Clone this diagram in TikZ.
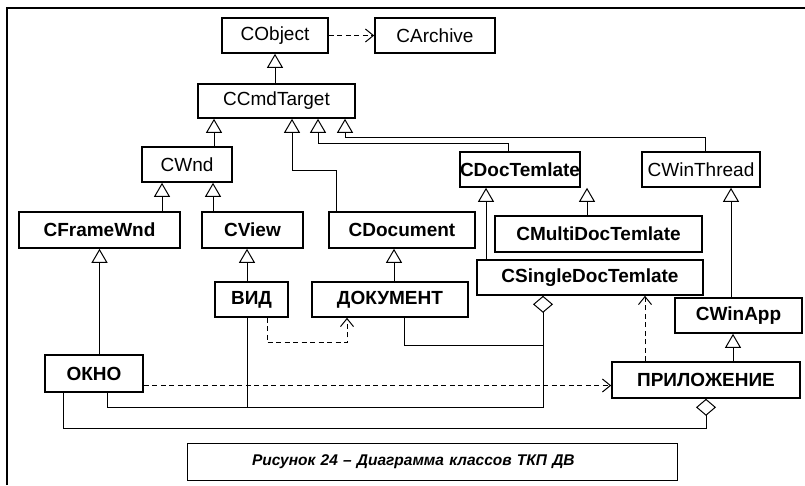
\documentclass[tikz,border=0pt]{standalone}
\usepackage{fontspec}
\setmainfont{Liberation Sans}
\usetikzlibrary{arrows.meta}

\begin{document}
\begin{tikzpicture}[x=1pt,y=-1pt,
  b/.style={draw,line width=1.6pt,inner sep=0pt,minimum height=35pt,font=\fontsize{19}{22}\selectfont},
  bb/.style={b,font=\fontsize{19}{22}\selectfont\bfseries},
  con/.style={line width=1pt},
  inh/.style={con,-{Triangle[open,length=14pt,width=16pt]}},
  agg/.style={con,-{Diamond[open,length=17pt,width=20pt]}},
  dep/.style={con,dash pattern=on 5pt off 3.5pt,-{Straight Barb[length=8pt,width=13pt]}}]
\useasboundingbox (0,0) rectangle (805,485);
\draw[line width=1.2pt] (7,485) -- (7,8) -- (805,8);

\node[b,minimum width=106pt] (obj) at (275,35.5) {CObject};
\node[b,minimum width=120pt] (arc) at (435,35.5) {CArchive};
\node[b,minimum width=157pt,minimum height=34pt] (cct) at (276.5,101) {CCmdTarget};
\node[b,minimum width=90pt] (wnd) at (187,164.5) {CWnd};
\node[bb,minimum width=120pt] (dt) at (520,169.5) {CDocTemlate};
\node[b,minimum width=118pt] (wt) at (701,169.5) {CWinThread};
\node[bb,minimum width=161pt,minimum height=36pt] (fw) at (99.5,230) {CFrameWnd};
\node[bb,minimum width=101pt,minimum height=36pt] (vw) at (252.5,230) {CView};
\node[bb,minimum width=146pt,minimum height=36pt] (doc) at (402,230) {CDocument};
\node[bb,minimum width=207pt,minimum height=36pt] (mdt) at (598.5,234) {CMultiDocTemlate};
\node[bb,minimum width=226pt] (sdt) at (590,277.5) {CSingleDocTemlate};
\node[bb,minimum width=73pt] (vid) at (251.5,299.5) {ВИД};
\node[bb,minimum width=156pt] (dok) at (390,299.5) {ДОКУМЕНТ};
\node[bb,minimum width=127pt] (wapp) at (738.5,315.5) {CWinApp};
\node[bb,minimum width=98pt,minimum height=37pt] (okno) at (94,373.5) {ОКНО};
\node[bb,minimum width=188pt,minimum height=36pt] (pril) at (706,380) {ПРИЛОЖЕНИЕ};
\node[draw,line width=1pt,inner xsep=65pt,text width=360pt,align=left,minimum height=37pt,
  font=\fontsize{15.5}{18}\selectfont\bfseries\itshape] (cap) at (432,461.5)
  {Рисунок 24 – Диаграмма классов ТКП ДВ};

% inheritance
\draw[inh] (cct.north -| obj) -- (obj);
\draw[inh] ([xshift=27pt]wnd.north) -- ([xshift=27pt]wnd.north |- cct.south);
\draw[inh] ([xshift=-25pt]wnd.south |- fw.north) -- ([xshift=-25pt]wnd.south);
\draw[inh] ([xshift=26pt]wnd.south |- vw.north) -- ([xshift=26pt]wnd.south);
\draw[inh] ([xshift=-66pt]doc.north) -- ++(0,-41) -| ([xshift=15.5pt]cct.south);
\draw[inh] ([xshift=-12pt]dt.north) -- ++(0,-8) -| ([xshift=41.5pt]cct.south);
\draw[inh] ([xshift=4pt]wt.north) -- ++(0,-14) -| ([xshift=68.5pt]cct.south);
\draw[inh] ([xshift=-34pt]dt.south |- sdt.north) -- ([xshift=-34pt]dt.south);
\draw[inh] ([xshift=67pt]dt.south |- mdt.north) -- ([xshift=67pt]dt.south);
\draw[inh] ([xshift=30pt]wt.south |- wapp.north) -- ([xshift=30pt]wt.south);
\draw[inh] ([xshift=-5.5pt]wapp.south |- pril.north) -- ([xshift=-5.5pt]wapp.south);
\draw[inh] ([xshift=-5.5pt]vw.south |- vid.north) -- ([xshift=-5.5pt]vw.south);
\draw[inh] ([xshift=-8pt]doc.south |- dok.north) -- ([xshift=-8pt]doc.south);
\draw[inh] (okno.north -| fw) -- (fw);

% aggregation
\draw[agg] ([xshift=13pt]okno.south) -- ++(0,15) -| ([xshift=-47pt]sdt.south);
\draw[con] ([xshift=-4.5pt]vid.south) -- ++(0,90);
\draw[con] ([xshift=14pt]dok.south) -- ++(0,28) -- ++(139,0);
\draw[agg] ([xshift=-31pt]okno.south) -- ++(0,36) -| (pril);

% dependencies
\draw[dep] (obj) -- (arc);
\draw[dep] ([xshift=15.5pt]vid.south) -- ++(0,25) -| ([xshift=-43pt]dok.south);
\draw[dep] ([yshift=-12pt]okno.east) -- ([yshift=-12pt]okno.east -| pril.west);
\draw[dep] ([xshift=-61pt]pril.north) -- ([xshift=-61pt]pril.north |- sdt.south);
\end{tikzpicture}
\end{document}
